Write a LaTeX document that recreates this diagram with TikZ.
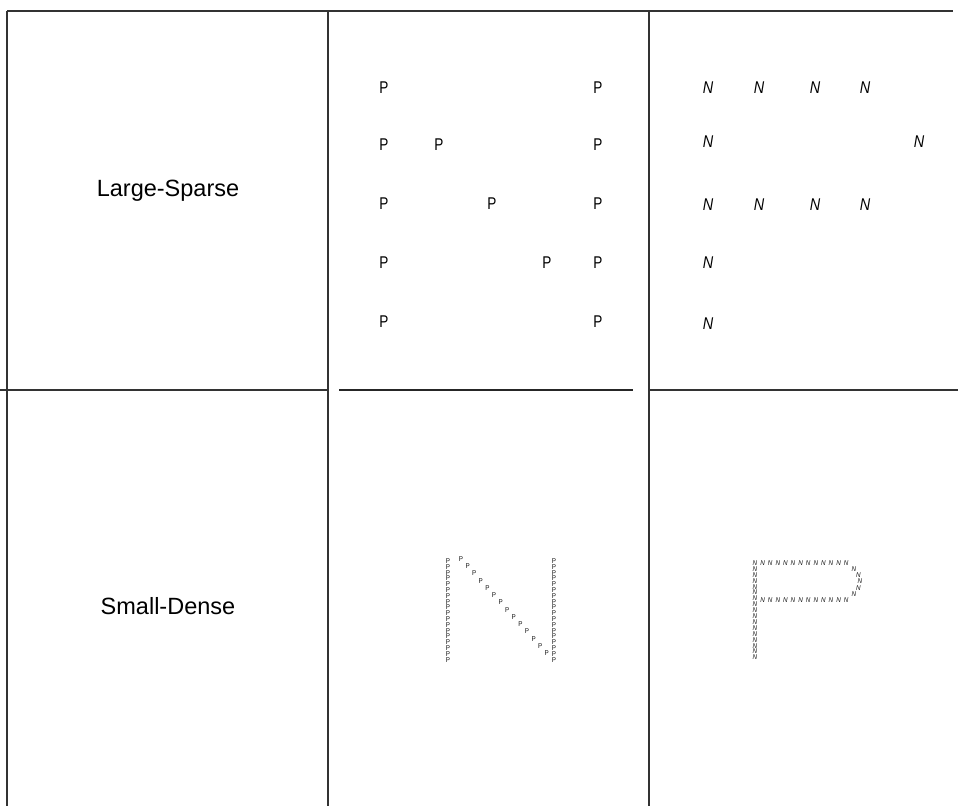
\documentclass[tikz,border=0pt]{standalone}
\usepackage{fontspec}
\setmainfont{Liberation Sans}
\begin{document}
\begin{tikzpicture}[x=1pt,y=-1pt,
  gridline/.style={draw=black!80, line width=1.1pt},
  midline/.style={draw=black!85, line width=1.5pt},
  lab/.style={inner sep=0pt, font=\fontsize{23.5}{28}\selectfont},
  bigp/.style={inner sep=0pt, text=black, font=\fontsize{17}{19}\selectfont, xscale=0.8},
  bign/.style={inner sep=0pt, text=black, font=\fontsize{17}{19}\selectfont\itshape, xscale=0.85},
  smallp/.style={inner sep=0pt, text=black!90, font=\fontsize{7}{8}\selectfont, xscale=0.9},
  smalln/.style={inner sep=0pt, text=black!90, font=\fontsize{7}{8}\selectfont\itshape, xscale=0.9}]
\useasboundingbox (0,0) rectangle (958,806);
\fill[white] (0,0) rectangle (958,806);
% grid lines
\draw[gridline] (7,11) -- (953,11);
\draw[gridline] (7,11) -- (7,806);
\draw[gridline] (328,11) -- (328,806);
\draw[gridline] (649,11) -- (649,806);
\draw[gridline] (0,390) -- (328,390);
\draw[midline] (339,390) -- (633,390);
\draw[gridline] (649,390) -- (958,390);
% labels
\node[lab] (ls) at (168,191) {Large-Sparse};
\node[lab] (sd) at (168,606) {Small-Dense};
% large sparse N made of P
\foreach \x/\y [count=\n] in {384/88,384/145,384/204,384/263,384/322,
  598/88,598/145,598/204,598/263,598/322,439/145,492/204,547/263}
  \node[bigp] (lp\n) at (\x,\y) {P};
% large sparse P made of N
\foreach \x/\y [count=\n] in {708/88,759/88,815/88,865/88,708/142,919/142,
  708/205,759/205,815/205,865/205,708/263,708/324}
  \node[bign] (ln\n) at (\x,\y) {N};
% small dense N made of P
\foreach \k in {0,...,17} {
  \node[smallp] (dl\k) at (448,{561+\k*5.8}) {P};
  \node[smallp] (dr\k) at (554,{561+\k*5.8}) {P};
}
\foreach \k in {0,...,13}
  \node[smallp] (dd\k) at ({461+\k*6.6},{559+\k*7.25}) {P};
% small dense P made of N
\foreach \k in {0,...,16}
  \node[smalln] (pc\k) at (755,{563+\k*5.9}) {N};
\foreach \k in {1,...,12} {
  \node[smalln] (pt\k) at ({755+\k*7.6},563) {N};
  \node[smalln] (pm\k) at ({755+\k*7.6},600) {N};
}
\foreach \k in {1,...,5}
  \node[smalln] (pb\k) at ({848+12*sin(\k*30)},{563+\k*6.17}) {N};
\end{tikzpicture}
\end{document}
